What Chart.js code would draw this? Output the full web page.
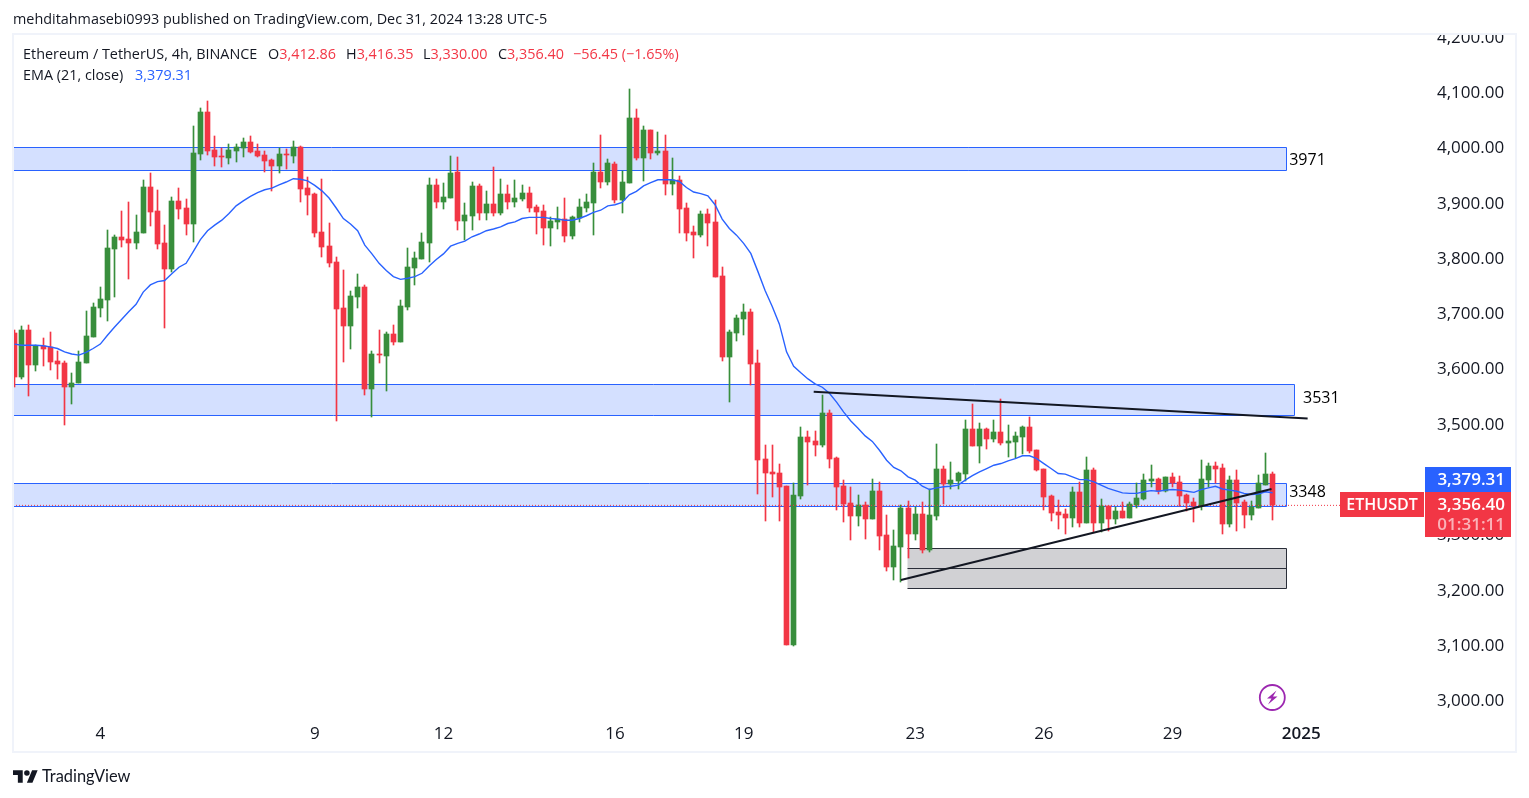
<!DOCTYPE html>
<html><head><meta charset="utf-8">
<style>
html,body{margin:0;padding:0;background:#fff;width:1529px;height:798px;overflow:hidden}
#wrap{position:relative;width:1529px;height:798px}
canvas{position:absolute;left:0;top:0}
.t{position:absolute;font-family:"Open Sans",sans-serif;font-size:14.4px;line-height:20px;color:#131722;white-space:pre}
.r{color:#F23645}.b{color:#2962FF}
</style></head><body><div id="wrap">
<canvas id="c" width="1529" height="798"></canvas>
<div class="t" style="left:13px;top:9px">mehditahmasebi0993 published on TradingView.com, Dec 31, 2024 13:28 UTC-5</div>
<div class="t" style="left:23px;top:44px">Ethereum / TetherUS, 4h, BINANCE</div>
<div class="t" style="left:268px;top:44px">O<span class="r">3,412.86</span></div>
<div class="t" style="left:346px;top:44px">H<span class="r">3,416.35</span></div>
<div class="t" style="left:423px;top:44px">L<span class="r">3,330.00</span></div>
<div class="t" style="left:498px;top:44px">C<span class="r">3,356.40</span></div>
<div class="t r" style="left:573px;top:44px">−56.45 (−1.65%)</div>
<div class="t" style="left:23px;top:65px">EMA (21, close)</div>
<div class="t b" style="left:135px;top:65px">3,379.31</div>
<svg style="position:absolute;left:13px;top:770px" width="25" height="13" viewBox="0 4 36 18"><path fill="#131722" d="M14 22H7V11H0V4h14v18zM28 22h-8l7.5-18h8L28 22z"/><circle fill="#131722" cx="20" cy="8" r="4"/></svg>
<div class="t" style="left:42px;top:766px;font-family:Lato,sans-serif;font-size:16.4px">TradingView</div>
</div>
<script src="https://cdn.jsdelivr.net/npm/chart.js@4/dist/chart.umd.js"></script>
<script>
const opens=[3668,3589,3674,3610,3645,3642,3617,3614,3571,3577,3614,3661,3713,3728,3820,3842,3838,3831,3849,3932,3889,3831,3784,3907,3894,3865,3992,4068,3999,3988,3985,3997,4003,4013,3997,3990,3981,3970,3992,3988,4004,3930,3919,3851,3825,3796,3713,3681,3733,3751,3567,3630,3627,3666,3652,3715,3786,3802,3831,3936,3905,3912,3959,3871,3880,3934,3885,3901,3885,3919,3905,3910,3921,3896,3889,3858,3869,3874,3843,3876,3894,3903,3959,3941,3974,3909,3939,4057,3985,4035,3994,3997,3938,3945,3894,3851,3845,3883,3869,3771,3625,3668,3693,3706,3614,3440,3417,3415,3391,3104,3373,3480,3473,3466,3523,3442,3391,3361,3337,3357,3332,3382,3303,3245,3281,3352,3305,3341,3276,3337,3422,3395,3400,3413,3494,3464,3494,3476,3489,3469,3471,3480,3498,3457,3422,3373,3344,3341,3334,3381,3325,3420,3325,3355,3332,3346,3334,3357,3368,3400,3404,3382,3408,3399,3375,3362,3355,3402,3428,3424,3323,3402,3362,3339,3352,3393,3412.86];
const highs=[3674,3681,3683,3646,3659,3670,3636,3617,3596,3636,3708,3722,3751,3854,3845,3889,3905,3881,3945,3957,3927,3863,3914,3930,3910,4042,4075,4088,4024,4003,4010,4010,4021,4024,4010,3997,3983,4003,4001,4015,4006,3950,3921,3947,3867,3806,3782,3744,3775,3755,3636,3674,3670,3683,3728,3822,3815,3849,3948,3947,3939,3988,3986,3903,3941,3938,3925,3968,3947,3936,3945,3936,3932,3900,3900,3878,3896,3912,3880,3910,3919,3975,4026,3983,3977,3961,4109,4073,4042,4035,4032,4026,3985,3952,3903,3862,3889,3892,3909,3787,3674,3701,3721,3712,3637,3466,3466,3431,3391,3396,3498,3491,3491,3556,3529,3444,3402,3390,3375,3362,3404,3399,3339,3312,3357,3364,3354,3362,3386,3467,3428,3435,3417,3511,3540,3505,3496,3511,3549,3502,3489,3500,3516,3457,3422,3375,3366,3350,3390,3399,3444,3424,3368,3355,3353,3362,3362,3396,3413,3429,3406,3408,3415,3410,3377,3370,3438,3433,3435,3431,3410,3420,3366,3364,3411,3451,3416.35];
const lows=[3571,3584,3555,3600,3608,3601,3585,3501,3540,3577,3614,3661,3697,3690,3733,3824,3766,3820,3849,3862,3820,3677,3778,3874,3845,3833,3981,3990,3970,3968,3974,3977,3986,3994,3986,3959,3925,3957,3965,3975,3905,3881,3842,3806,3787,3509,3616,3639,3713,3556,3516,3614,3563,3646,3652,3710,3755,3802,3796,3894,3892,3912,3854,3836,3854,3872,3872,3880,3881,3892,3896,3907,3887,3847,3827,3825,3856,3833,3838,3869,3887,3845,3930,3936,3903,3885,3939,3981,3943,3983,3990,3918,3918,3849,3834,3804,3842,3825,3769,3617,3543,3654,3664,3574,3377,3328,3372,3328,3104,3102,3368,3393,3446,3462,3424,3348,3326,3294,3319,3296,3332,3276,3238,3221,3218,3261,3294,3270,3272,3330,3359,3386,3386,3400,3464,3433,3458,3471,3466,3444,3442,3449,3451,3419,3348,3328,3314,3305,3317,3317,3325,3308,3308,3310,3323,3334,3334,3352,3366,3390,3377,3381,3390,3355,3346,3326,3348,3390,3396,3305,3317,3310,3315,3330,3352,3393,3330];
const closes=[3589,3674,3610,3645,3639,3616,3612,3571,3577,3616,3663,3715,3730,3822,3842,3836,3831,3851,3932,3887,3829,3784,3907,3892,3865,3994,4068,3997,3986,3986,3999,4004,4013,3995,3988,3979,3970,3992,3990,4004,3928,3918,3849,3824,3795,3711,3681,3735,3751,3567,3630,3628,3666,3652,3717,3787,3804,3833,3936,3905,3914,3957,3871,3881,3934,3885,3901,3885,3919,3905,3912,3921,3894,3887,3858,3871,3874,3843,3878,3896,3905,3959,3941,3975,3909,3941,4057,3985,4035,3994,3997,3938,3945,3892,3849,3845,3883,3867,3769,3625,3670,3695,3706,3612,3438,3415,3413,3390,3104,3375,3480,3471,3466,3523,3440,3390,3359,3337,3357,3332,3382,3301,3245,3283,3352,3305,3341,3276,3339,3422,3395,3402,3415,3494,3464,3494,3476,3489,3469,3473,3482,3498,3455,3420,3372,3343,3339,3334,3381,3325,3420,3325,3355,3332,3346,3334,3359,3370,3402,3404,3382,3408,3397,3373,3361,3355,3404,3428,3422,3323,3402,3361,3339,3353,3397,3413,3356.4];
const ema=[3648,3646,3646,3646,3645,3643,3640,3634,3630,3628,3633,3640,3648,3664,3679,3693,3707,3720,3742,3755,3761,3763,3775,3787,3794,3815,3837,3853,3863,3872,3884,3898,3907,3915,3922,3927,3930,3936,3941,3947,3946,3943,3935,3925,3912,3894,3875,3865,3853,3827,3811,3794,3781,3770,3765,3767,3770,3776,3789,3801,3811,3825,3830,3834,3842,3847,3853,3856,3860,3866,3869,3875,3877,3877,3877,3875,3874,3872,3872,3875,3880,3886,3890,3898,3900,3904,3918,3924,3934,3940,3945,3945,3945,3942,3931,3923,3920,3916,3900,3874,3857,3845,3830,3812,3779,3745,3716,3684,3634,3608,3596,3585,3576,3570,3559,3543,3525,3509,3496,3482,3472,3456,3438,3425,3419,3408,3402,3391,3385,3388,3390,3391,3393,3402,3410,3417,3423,3429,3432,3437,3441,3446,3446,3441,3432,3423,3414,3413,3408,3403,3403,3399,3393,3387,3383,3379,3378,3378,3381,3383,3382,3384,3385,3384,3382,3380,3385,3388,3391,3386,3384,3382,3378,3376,3377,3381,3379.31];
const yTicks=[3000,3100,3200,3300,3400,3500,3600,3700,3800,3900,4000,4100,4200];
const xTickIdx=[12,42,60,84,102,126,144,162,180];
const xTickLabels=["4","9","12","16","19","23","26","29","2025"];
const zoneTop=[4004.5,3575,3396];
const zoneBottom=[3963,3520,3355];
const zoneEnd=[177.9,179,177.9];
const zoneLabels=["3971","3531","3348"];
const boxRange=[124.8,177.9];
const boxLevels=[3279,3243,3206.5];
const lineA={x:[111.8,180.9],y:[3562,3513.5]};
const lineB={x:[124,175.85],y:[3221.5,3386]};
const lastPrice=3356.4, emaLast=3379.31;
const GREEN="#388E3C",RED="#F23645",BLUE="#2962FF",INK="#131722";
const FONT='"Open Sans",sans-serif';
const col=opens.map((o,i)=>closes[i]>=o?GREEN:RED);
const idx=opens.map((_,i)=>i);
const X_MIN=-0.2154,X_MAX=197.18,Y_MIN=2975.6,Y_MAX=4206.8;

const deco={id:'deco',
 beforeDatasetsDraw(ch){
  const c=ch.ctx,xs=ch.scales.x,ys=ch.scales.y,a=ch.chartArea;
  c.save();
  c.beginPath();c.rect(a.left,a.top,a.right-a.left,a.bottom-a.top);c.clip();
  zoneTop.forEach((t,i)=>{
   const x0=a.left,x1=Math.round(xs.getPixelForValue(zoneEnd[i]))+.5,y0=Math.round(ys.getPixelForValue(t))+.5,y1=Math.round(ys.getPixelForValue(zoneBottom[i]))+.5;
   c.fillStyle='rgba(41,98,255,0.2)';c.fillRect(x0,y0,x1-x0,y1-y0);
   c.strokeStyle=BLUE;c.lineWidth=1;c.beginPath();c.moveTo(x0,y0);c.lineTo(x1,y0);c.lineTo(x1,y1);c.lineTo(x0,y1);c.stroke();
  });
  const bx0=Math.round(xs.getPixelForValue(boxRange[0]))+.5,bx1=Math.round(xs.getPixelForValue(boxRange[1]))+.5;
  const by=boxLevels.map(v=>Math.round(ys.getPixelForValue(v))+.5);
  c.fillStyle='#D1D1D4';c.fillRect(bx0,by[0],bx1-bx0,by[2]-by[0]);
  c.strokeStyle='#2A2E39';c.lineWidth=1;c.beginPath();
  by.forEach(y=>{c.moveTo(bx0,y);c.lineTo(bx1,y)});
  c.moveTo(bx1,by[0]);c.lineTo(bx1,by[2]);c.stroke();
  c.restore();
 },
 beforeDatasetDraw(ch,args){
  if(args.meta.type!=='bar')return;
  args.meta.data.forEach(el=>{
   el.x=Math.floor(el.x)+.5;
   el.y=Math.round(el.y);el.base=Math.round(el.base);
   if(Math.abs(el.y-el.base)<1)el.base=el.y+1;
  });
 },
 afterDraw(ch){
  const c=ch.ctx,xs=ch.scales.x,ys=ch.scales.y;
  c.save();
  c.fillStyle='#fff';c.fillRect(1420,26,96,8);
  c.strokeStyle='#F0F3FA';c.lineWidth=2;c.strokeRect(13,34,1503,718);
  c.fillStyle='#000';c.font='16px '+FONT;c.textBaseline='middle';c.textAlign='left';
  const nudgeX=[3,9,3],nudgeY=[2,-1,-2];
  zoneLabels.forEach((s,i)=>{
   c.fillText(s,xs.getPixelForValue(zoneEnd[i])+nudgeX[i],(ys.getPixelForValue(zoneTop[i])+ys.getPixelForValue(zoneBottom[i]))/2+nudgeY[i]);
  });
  const py=Math.round(ys.getPixelForValue(lastPrice));
  c.fillStyle=RED;c.fillRect(1340,py-13,84,25);
  c.fillRect(1425,py-13,86,45);
  c.fillStyle=BLUE;c.fillRect(1425,py-38,86,25);
  c.fillStyle='#fff';c.font='600 17px '+FONT;c.textAlign='right';
  c.fillText(emaLast.toLocaleString('en-US',{minimumFractionDigits:2}),1505,py-25);
  c.fillText(lastPrice.toLocaleString('en-US',{minimumFractionDigits:2}),1505,py);
  c.fillStyle='rgba(255,255,255,0.62)';c.fillText('01:31:11',1505,py+20);
  c.fillStyle='#fff';c.textAlign='center';c.font='600 16px '+FONT;c.fillText('ETHUSDT',1382,py);
  c.strokeStyle='#9C27B0';c.lineWidth=1.8;c.beginPath();c.arc(1272.3,697.5,12.5,0,Math.PI*2);c.stroke();
  c.fillStyle='#9C27B0';c.beginPath();
  c.moveTo(1276.5,690.5);c.lineTo(1267,698.5);c.lineTo(1271.5,698.5);c.lineTo(1268,704.5);c.lineTo(1277.5,696.5);c.lineTo(1273,696.5);c.closePath();c.fill();
  c.restore();
 }
};

new Chart(document.getElementById('c'),{
 data:{datasets:[
  {type:'line',order:1,data:[{x:X_MIN,y:lastPrice},{x:X_MAX,y:lastPrice}],borderColor:RED,borderWidth:1,borderDash:[1,2],pointRadius:0},
  {type:'line',order:0,data:lineA.x.map((x,i)=>({x,y:lineA.y[i]})),borderColor:INK,borderWidth:2,pointRadius:0},
  {type:'line',order:0,data:lineB.x.map((x,i)=>({x,y:lineB.y[i]})),borderColor:INK,borderWidth:2,pointRadius:0},
  {type:'line',order:2,data:idx.map(i=>({x:i,y:ema[i]})),borderColor:BLUE,borderWidth:1.4,pointRadius:0,tension:0},
  {type:'bar',order:3,grouped:false,barThickness:5,data:idx.map(i=>({x:i,y:[opens[i],closes[i]]})),backgroundColor:col,borderWidth:0,borderSkipped:false},
  {type:'bar',order:4,grouped:false,barThickness:1,data:idx.map(i=>({x:i,y:[lows[i],highs[i]]})),backgroundColor:col,borderWidth:0,borderSkipped:false}
 ]},
 options:{
  responsive:false,animation:false,events:[],
  layout:{padding:{left:13,top:35,right:13,bottom:47}},
  plugins:{legend:{display:false},tooltip:{enabled:false}},
  scales:{
   x:{type:'linear',min:X_MIN,max:X_MAX,offset:false,grid:{display:false},border:{display:false},
    afterBuildTicks(s){s.ticks=xTickIdx.map(v=>({value:v}))},
    afterFit(s){s.height=35},
    ticks:{autoSkip:false,maxRotation:0,padding:0,color:INK,
     font:ctx=>({family:FONT,size:17,weight:ctx.tick&&ctx.tick.value===180?'600':'400'}),
     callback:v=>xTickLabels[xTickIdx.indexOf(v)]}},
   y:{type:'linear',position:'right',min:Y_MIN,max:Y_MAX,grid:{display:false},border:{display:false},
    afterBuildTicks(s){s.ticks=yTicks.map(v=>({value:v}))},
    afterFit(s){s.width=92},
    ticks:{autoSkip:false,padding:5,labelOffset:-1,color:INK,font:{family:FONT,size:17},
     callback:v=>v.toLocaleString('en-US',{minimumFractionDigits:2})}}
  }
 },
 plugins:[deco]
});
</script></body></html>
